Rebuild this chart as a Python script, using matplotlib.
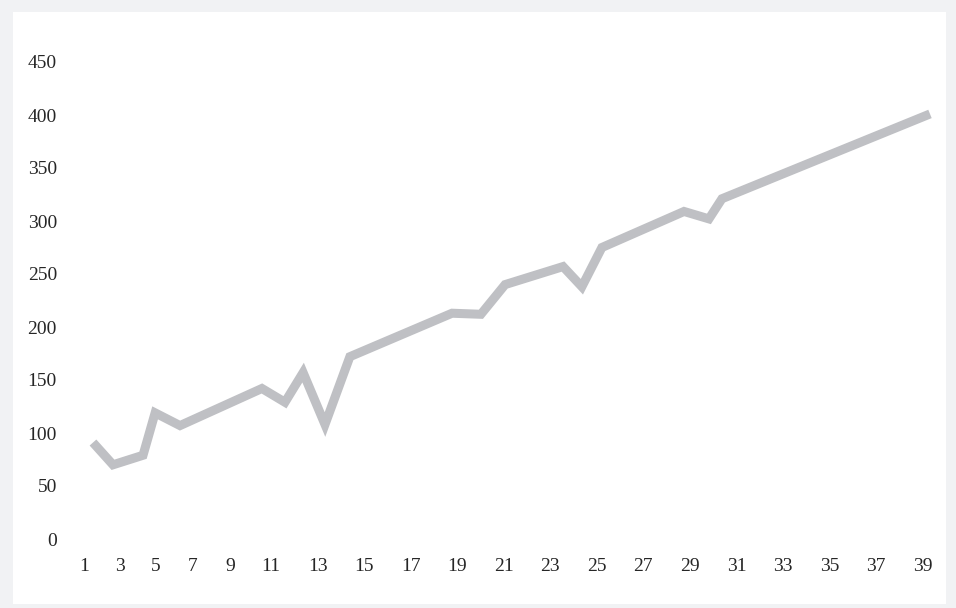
import matplotlib
matplotlib.use("Agg")
import matplotlib.pyplot as plt
from matplotlib.patches import Rectangle

# Series vertices (x on the axis' numeric scale, y value)
x_pos = [3.35, 4.21, 5.50, 6.02, 7.09, 10.61, 11.60, 12.38, 13.32, 14.39,
         18.78, 20.02, 21.06, 23.55, 24.36, 25.22, 28.75, 29.82, 30.38, 39.32]
values = [91, 70, 79, 119, 107, 142, 129, 157, 108, 172,
          213, 212, 240, 257, 238, 275, 309, 302, 321, 401]

# Category labels along the bottom and where they sit on the axis
x_tick_pos = [2.96, 4.49, 6.06, 7.63, 9.24, 11, 13, 15, 17, 19, 21, 23, 25,
              27, 29, 31, 33, 35, 37, 39]
x_tick_labels = [str(v) for v in range(1, 40, 2)]
y_ticks = [0, 50, 100, 150, 200, 250, 300, 350, 400, 450]

W, H, DPI = 956, 608, 100
fig = plt.figure(figsize=(W / DPI, H / DPI), dpi=DPI)
fig.patch.set_facecolor("#f1f2f4")

# white card inside the light frame
bg = fig.add_axes([0, 0, 1, 1], zorder=0)
bg.set_axis_off()
bg.set_xlim(0, W)
bg.set_ylim(H, 0)
bg.add_patch(Rectangle((13, 12), 946 - 13, 604 - 12, facecolor="white",
                       edgecolor="none"))

left_px, right_px, top_px, bottom_px = 75, 940, 62, 539
ax = fig.add_axes([left_px / W, (H - bottom_px) / H,
                   (right_px - left_px) / W, (bottom_px - top_px) / H],
                  zorder=2)
ax.set_facecolor("none")

ax.plot(x_pos, values, color="#bfc0c4", lw=6.5, solid_joinstyle="miter",
        solid_capstyle="butt", clip_on=False)

ax.set_xlim(2.577, 39.75)
ax.set_ylim(0, 450)

ax.set_xticks(x_tick_pos)
ax.set_xticklabels(x_tick_labels)
ax.set_yticks(y_ticks)
ax.set_yticklabels([str(v) for v in y_ticks])

for lab in ax.get_xticklabels() + ax.get_yticklabels():
    lab.set_fontfamily("Liberation Serif")
    lab.set_fontsize(14)
    lab.set_color("#262626")

ax.tick_params(axis="both", length=0)
ax.tick_params(axis="y", pad=13)
ax.tick_params(axis="x", pad=14)
for s in ax.spines.values():
    s.set_visible(False)

fig.savefig("out.png", dpi=DPI, facecolor=fig.get_facecolor())
